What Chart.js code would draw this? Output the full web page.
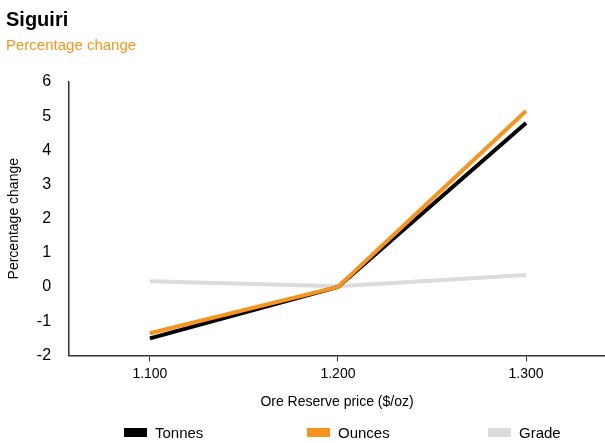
<!DOCTYPE html>
<html>
<head>
<meta charset="utf-8">
<script src="https://cdn.jsdelivr.net/npm/chart.js@4"></script>
<style>
  html, body { margin: 0; padding: 0; background: #fff; }
  #wrap { width: 605px; height: 443px; position: relative; }
  .key { position: absolute; top: 424px; font: 15px 'Liberation Sans', Arial, sans-serif; color: #000; }
  .key span { display: inline-block; width: 23px; height: 9px; margin-right: 8px; vertical-align: 1px; }
</style>
</head>
<body>
<div id="wrap">
  <canvas id="chart" width="605" height="443"></canvas>
  <div id="legend"></div>
</div>
<script>
// Ore Reserve price sensitivity, Siguiri
const priceLabels = ["1.100", "1.200", "1.300"];
const prices = [1100, 1200, 1300];
const tonnes = [-1.5, 0, 4.8];
const ounces = [-1.35, 0, 5.15];
const grade = [0.17, 0.02, 0.35];
const yTicks = [-2, -1, 0, 1, 2, 3, 4, 5, 6];

const FONT = "'Liberation Sans', Arial, sans-serif";
const ORANGE = "#F7941D";

function pts(vals) {
  return vals.map((v, i) => ({ x: prices[i], y: v }));
}

const ctx = document.getElementById("chart").getContext("2d");
const chart = new Chart(ctx, {
  type: "line",
  data: {
    datasets: [
      { label: "Tonnes", data: pts(tonnes), borderColor: "#000000", backgroundColor: "#000000", borderWidth: 4, pointRadius: 0, order: 2 },
      { label: "Ounces", data: pts(ounces), borderColor: ORANGE, backgroundColor: ORANGE, borderWidth: 4, pointRadius: 0, order: 1 },
      { label: "Grade", data: pts(grade), borderColor: "#DCDCDC", backgroundColor: "#DCDCDC", borderWidth: 4, pointRadius: 0, order: 3 }
    ]
  },
  options: {
    responsive: false,
    animation: false,
    layout: { padding: { left: 6, right: 0, top: 6, bottom: 32 } },
    plugins: {
      title: {
        display: true, text: "Siguiri", align: "start", color: "#000",
        font: { family: FONT, size: 20, weight: "bold" }, padding: { top: 2, bottom: 0 }
      },
      subtitle: {
        display: true, text: "Percentage change", align: "start", color: ORANGE,
        font: { family: FONT, size: 15 }, padding: { top: 5, bottom: 27 }
      },
      legend: { display: false },
      tooltip: { enabled: false }
    },
    scales: {
      x: {
        type: "linear", min: 1057, max: 1342,
        afterBuildTicks: s => { s.ticks = prices.map(v => ({ value: v })); },
        ticks: {
          color: "#000", font: { family: FONT, size: 14 }, padding: 4,
          callback: v => priceLabels[prices.indexOf(v)]
        },
        grid: { display: true, drawOnChartArea: false, drawTicks: true, tickLength: 6, color: "#333" },
        border: { display: true, color: "#333", width: 1.5 },
        title: { display: true, text: "Ore Reserve price ($/oz)", color: "#000", font: { family: FONT, size: 14 }, padding: { top: 8, bottom: 0 } }
      },
      y: {
        min: -2, max: 6,
        afterBuildTicks: s => { s.ticks = yTicks.map(v => ({ value: v })); },
        ticks: { color: "#000", font: { family: FONT, size: 16 }, padding: 10 },
        grid: { display: false },
        border: { display: true, color: "#333", width: 1.5 },
        title: { display: true, text: "Percentage change", color: "#000", font: { family: FONT, size: 14 }, padding: { top: 0, bottom: 4 } }
      }
    }
  }
});

// legend keys at fixed spots, like the original layout
const keyX = [124, 307, 488];
const legend = document.getElementById("legend");
chart.data.datasets.forEach((ds, i) => {
  const d = document.createElement("div");
  d.className = "key";
  d.style.left = keyX[i] + "px";
  d.innerHTML = `<span style="background:${ds.borderColor}"></span>${ds.label}`;
  legend.appendChild(d);
});
</script>
</body>
</html>
